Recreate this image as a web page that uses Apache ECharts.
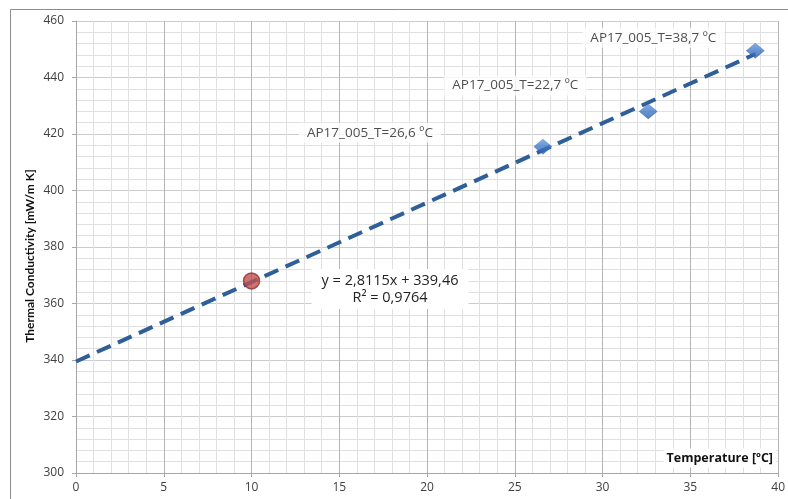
<!DOCTYPE html>
<html><head><meta charset="utf-8">
<script src="https://cdn.jsdelivr.net/npm/echarts@6/dist/echarts.min.js"></script>
<style>html,body{margin:0;padding:0;background:#fff}#c{width:788px;height:499px}</style>
</head><body><div id="c"></div>
<script>
// Data
const refX = [10];
const refY = [368];
const sampleX = [26.6, 32.6, 38.7];
const sampleY = [415.5, 428, 449.5];
const sampleLabels = ['AP17_005_T=26,6 ºC', 'AP17_005_T=22,7 ºC', 'AP17_005_T=38,7 ºC'];
const trendX = [0, 38.7];
const trendY = [339.46, 448.3];
const equationText = ['y = 2,8115x + 339,46', 'R² = 0,9764'];
const xTitle = 'Temperature [ºC]';
const yTitle = 'Thermal Conductivity [mW/m K]';

const FONT = '"Open Sans", Lato, sans-serif';
const TFONT = 'Lato, "Open Sans", sans-serif';
const labelOffsets = [[-173, -14], [-133, -26], [-102, -13]];

const chart = echarts.init(document.getElementById('c'), null, {renderer: 'canvas'});
chart.setOption({
  animation: false,
  textStyle: {fontFamily: FONT},
  grid: {left: 76, right: 6, top: 21, bottom: 26, containLabel: false},
  xAxis: {
    type: 'value', min: 0, max: 40, interval: 5,
    axisLine: {show: true, lineStyle: {color: '#a6a6a6', width: 1}},
    axisTick: {show: true, length: 4, lineStyle: {color: '#a6a6a6'}},
    axisLabel: {color: '#404040', fontSize: 12, margin: 9, fontFamily: FONT},
    splitLine: {show: true, lineStyle: {color: '#b4b4b4', width: 1}},
    minorTick: {show: false, splitNumber: 5},
    minorSplitLine: {show: true, lineStyle: {color: '#e0e0e0', width: 1}}
  },
  yAxis: {
    type: 'value', min: 300, max: 460, interval: 20,
    axisLine: {show: true, lineStyle: {color: '#a6a6a6', width: 1}},
    axisTick: {show: true, length: 4, lineStyle: {color: '#a6a6a6'}},
    axisLabel: {color: '#404040', fontSize: 12, margin: 12, fontFamily: FONT},
    splitLine: {show: true, lineStyle: {color: '#cccccc', width: 1}},
    minorTick: {show: false, splitNumber: 5},
    minorSplitLine: {show: true, lineStyle: {color: '#e0e0e0', width: 1}}
  },
  graphic: [
    {type: 'rect', shape: {x: 10.5, y: 9.5, width: 800, height: 520}, style: {fill: 'none', stroke: '#8c8c8c', lineWidth: 1}, z: 100},
    {type: 'text', x: 30, y: 256, rotation: Math.PI / 2, z: 50,
      style: {text: yTitle, font: 'bold 12px ' + TFONT, fill: '#111', align: 'center', verticalAlign: 'middle'}},
    {type: 'text', x: 776, y: 458, z: 50,
      style: {text: xTitle, font: 'bold 12.5px ' + FONT, fill: '#111', align: 'right', verticalAlign: 'middle',
        backgroundColor: '#fff', padding: [3, 3]}},
    {type: 'text', x: 390, y: 289, z: 50,
      style: {text: equationText.join('\n'), font: '14.5px ' + FONT, fill: '#222', align: 'center', verticalAlign: 'middle',
        lineHeight: 17, backgroundColor: '#fff', padding: [3, 10]}}
  ],
  series: [
    {
      type: 'line', data: trendX.map((x, i) => [x, trendY[i]]), showSymbol: false, symbol: 'none',
      lineStyle: {color: '#2e5f98', width: 4, type: [15, 8]}, z: 3, silent: true
    },
    {
      type: 'scatter', data: refX.map((x, i) => [x, refY[i]]), symbol: 'circle', symbolSize: 16,
      itemStyle: {color: '#c0504d', borderColor: '#8c2f2c', borderWidth: 1.5}, z: 5
    },
    {
      type: 'scatter', data: sampleX.map((x, i) => ({
        value: [x, sampleY[i]],
        label: {show: true, position: 'inside', offset: labelOffsets[i], formatter: sampleLabels[i],
          color: '#222', fontSize: 13.5, fontFamily: FONT, backgroundColor: '#fff', padding: [3, 8]}
      })),
      symbol: 'diamond', symbolSize: [18, 15],
      itemStyle: {color: new echarts.graphic.LinearGradient(0, 0, 0, 1, [{offset: 0, color: '#6a9be0'}, {offset: 0.5, color: '#3f78c8'}, {offset: 1, color: '#275ea8'}]),
        borderColor: '#2f64ad', borderWidth: 0.5},
      z: 6
    }
  ]
});
</script></body></html>
